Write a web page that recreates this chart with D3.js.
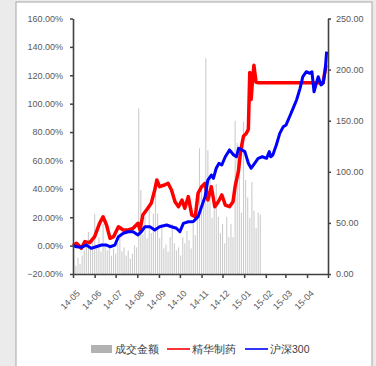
<!DOCTYPE html>
<html><head><meta charset="utf-8">
<script src="https://cdn.jsdelivr.net/npm/d3@7"></script>
<style>
html,body{margin:0;padding:0;background:#ebebeb;}
svg{display:block;}
text{font-family:"Liberation Sans",Arial,sans-serif;}
</style></head><body>
<svg id="c" width="376" height="366"></svg>
<script>
const monthLabels = ["14-05","14-06","14-07","14-08","14-09","14-10","14-11","14-12","15-01","15-02","15-03","15-04"];
const leftTicks = [-20,0,20,40,60,80,100,120,140,160];
const rightTicks = [0,50,100,150,200,250];
const legendLabels = ["成交金额","精华制药","沪深300"];

const redDates = ["2014-05-01","2014-05-06","2014-05-13","2014-05-18","2014-05-25","2014-06-01","2014-06-08","2014-06-13","2014-06-18","2014-06-23","2014-06-28","2014-07-05","2014-07-12","2014-07-19","2014-07-26","2014-08-02","2014-08-05","2014-08-09","2014-08-16","2014-08-21","2014-08-26","2014-08-29","2014-09-02","2014-09-09","2014-09-14","2014-09-19","2014-09-24","2014-09-29","2014-10-04","2014-10-08","2014-10-13","2014-10-18","2014-10-23","2014-10-27","2014-11-01","2014-11-06","2014-11-10","2014-11-15","2014-11-20","2014-11-25","2014-11-30","2014-12-05","2014-12-11","2014-12-16","2014-12-19","2014-12-24","2014-12-27","2014-12-31","2015-01-04","2015-01-07","2015-01-09","2015-01-11","2015-01-13","2015-01-15","2015-01-18","2015-01-21","2015-04-24","2015-04-28"];
const redValues = [0,1.6,-1.9,2.8,2.1,6.3,15.7,20.3,14.5,5.1,6.3,13.3,11,11,12.2,15.7,11,21.6,26.3,29.8,39.2,46.2,41.5,42.7,43.9,39.2,30.9,27.4,32.1,26.3,34.5,21.6,20.4,36.9,41.5,43.9,32.1,41.5,27.4,30.9,35.7,28.6,27.4,30.9,41.5,53,67,77,79,82,122,103,117,127,115,114.8,114.8,127];

const blueDates = ["2014-05-01","2014-05-06","2014-05-13","2014-05-20","2014-05-27","2014-06-03","2014-06-11","2014-06-18","2014-06-23","2014-06-30","2014-07-05","2014-07-12","2014-07-19","2014-07-26","2014-08-02","2014-08-07","2014-08-12","2014-08-19","2014-08-26","2014-09-02","2014-09-12","2014-09-19","2014-09-26","2014-10-01","2014-10-06","2014-10-13","2014-10-20","2014-10-27","2014-11-01","2014-11-06","2014-11-10","2014-11-15","2014-11-18","2014-11-22","2014-11-26","2014-11-30","2014-12-05","2014-12-11","2014-12-17","2014-12-21","2014-12-24","2014-12-29","2015-01-02","2015-01-07","2015-01-11","2015-01-16","2015-01-21","2015-01-27","2015-02-02","2015-02-06","2015-02-08","2015-02-11","2015-02-16","2015-02-21","2015-02-26","2015-03-02","2015-03-07","2015-03-12","2015-03-17","2015-03-22","2015-03-26","2015-03-31","2015-04-05","2015-04-08","2015-04-11","2015-04-15","2015-04-17","2015-04-21","2015-04-24","2015-04-27","2015-04-29"];
const blueValues = [0,-0.8,-1.2,0.4,-1.9,-0.8,0.4,0.4,-0.8,0.4,6.3,8.7,9.8,9.8,7.5,9.8,13.3,13.3,11,13.3,14.5,13.3,12.2,9.8,15.7,16.8,16.8,20.4,27.4,34.5,46.2,49.7,47.4,54.5,58,56.8,62.6,67.4,63.8,62.6,68.6,67.4,66.2,58,54.5,58,61.5,62.6,61.5,66.2,62.6,63.8,70.9,79.1,83.8,85,90.8,96.7,102.6,110.8,119,122.5,121.4,122.5,108.4,115.5,119,113.2,114.3,123.7,136.6];

const volumeStart = "2014-05-02";
const volumeStepDays = 3;
const volumeValues = [13,8,16,10,18,23,30,41,25,35,59,28,36,22,49,30,23,29,18,25,20,30,36,22,26,18,23,15,20,28,26,162,82,39,56,35,65,40,59,78,59,35,49,25,29,22,36,49,30,23,26,18,36,30,42,33,25,49,38,59,123,85,69,211,121,95,55,69,88,56,40,49,30,56,36,49,36,150,128,101,60,149,92,75,55,90,62,45,60,58];

const svg = d3.select("#c");
const parse = d3.timeParse("%Y-%m-%d");

// frame
svg.append("rect").attr("x",16).attr("y",2).attr("width",356).attr("height",370)
  .attr("fill","#fff").attr("stroke","#a6a6a6").attr("stroke-width",1);

const x = d3.scaleTime().domain([parse("2014-05-01"), parse("2015-05-01")]).range([73,328]);
const yL = d3.scaleLinear().domain([-20,160]).range([274,18.5]);
const yR = d3.scaleLinear().domain([0,250]).range([274,18.5]);

// volume bars
const v0 = parse(volumeStart);
const vol = volumeValues.map((v,i)=>({d:d3.timeDay.offset(v0, i*volumeStepDays), v}));
svg.append("g").selectAll("rect").data(vol).join("rect")
  .attr("x", d=>x(d.d)-0.5).attr("width",1.1)
  .attr("y", d=>yR(d.v)).attr("height", d=>yR(0)-yR(d.v))
  .attr("fill","#cccccc");

// lines
const red = redDates.map((d,i)=>({d:parse(d), v:redValues[i]}));
const blue = blueDates.map((d,i)=>({d:parse(d), v:blueValues[i]}));
const line = d3.line().x(d=>x(d.d)).y(d=>yL(d.v));
svg.append("path").datum(red).attr("d",line).attr("fill","none")
  .attr("stroke","#ff0000").attr("stroke-width",3.5).attr("stroke-linejoin","round");
svg.append("path").datum(blue).attr("d",line).attr("fill","none")
  .attr("stroke","#0000ff").attr("stroke-width",3).attr("stroke-linejoin","round");

function styleAxis(g){
  g.select(".domain").attr("stroke","#404040").attr("stroke-width",1.6);
  g.selectAll(".tick line").attr("stroke","#404040").attr("stroke-width",1.5);
  g.selectAll("text").attr("fill","#595959").attr("font-size","9px")
    .attr("font-family","'Liberation Sans',Arial,sans-serif");
}

const gl = svg.append("g").attr("transform","translate(73,0)")
  .call(d3.axisLeft(yL).tickValues(leftTicks).tickSize(3).tickPadding(7).tickSizeOuter(0)
    .tickFormat(d=>d3.format(".2f")(d)+"%"));
styleAxis(gl);

const gr = svg.append("g").attr("transform","translate(328,0)")
  .call(d3.axisRight(yR).tickValues(rightTicks).tickSize(3).tickPadding(5).tickSizeOuter(0)
    .tickFormat(d3.format(".2f")));
styleAxis(gr);

const monthTicks = d3.timeMonth.range(parse("2014-05-01"), parse("2015-05-02"));
const gx = svg.append("g").attr("transform","translate(0,274)")
  .call(d3.axisBottom(x).tickValues(monthTicks).tickSize(4).tickSizeOuter(0)
    .tickFormat((d,i)=> monthLabels[i] || ""));
styleAxis(gx);
gx.selectAll(".tick text")
  .attr("text-anchor","end").attr("dy",null).attr("y",null)
  .attr("transform","translate(7,20) rotate(-45)");

// legend
const lg = svg.append("g").attr("font-size","10.5px").attr("fill","#404040");
lg.append("rect").attr("x",91).attr("y",345).attr("width",21).attr("height",8).attr("fill","#b2b2b2");
lg.append("text").attr("x",115).attr("y",353).text(legendLabels[0]).attr("fill","#404040")
  .attr("font-family","'Noto Sans CJK SC',sans-serif");
lg.append("line").attr("x1",167).attr("x2",190).attr("y1",349).attr("y2",349).attr("stroke","#ff0000").attr("stroke-width",1.6);
lg.append("text").attr("x",192).attr("y",353).text(legendLabels[1]).attr("fill","#404040")
  .attr("font-family","'Noto Sans CJK SC',sans-serif");
lg.append("line").attr("x1",245).attr("x2",268).attr("y1",349).attr("y2",349).attr("stroke","#0000ff").attr("stroke-width",1.6);
lg.append("text").attr("x",270).attr("y",353).text(legendLabels[2]).attr("fill","#404040")
  .attr("font-family","'Noto Sans CJK SC',sans-serif");
</script>
</body></html>
